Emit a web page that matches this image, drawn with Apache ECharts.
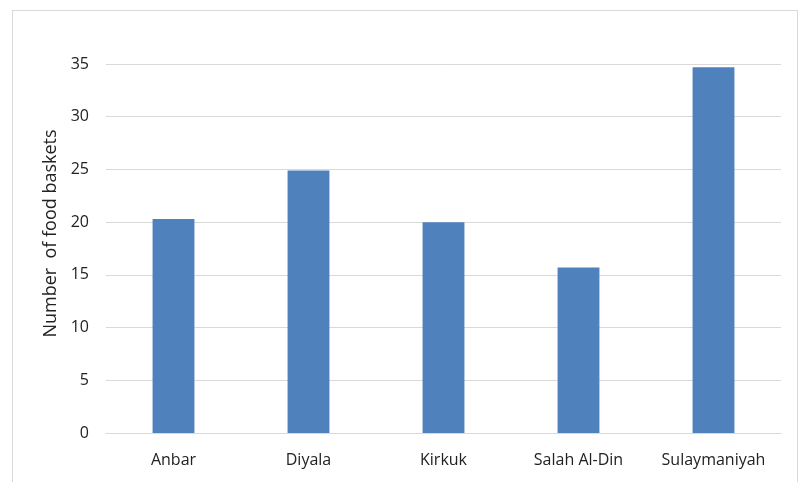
<!DOCTYPE html>
<html><head><meta charset="utf-8">
<script src="https://cdn.jsdelivr.net/npm/echarts@6/dist/echarts.min.js"></script>
<style>html,body{margin:0;padding:0;background:#fff}#c{width:808px;height:482px}
#frame{position:absolute;left:12px;top:10px;width:786px;height:480px;border:1px solid #d9d9d9;box-sizing:border-box;pointer-events:none}</style>
</head><body><div id="c"></div><div id="frame"></div>
<script>
const categories = ["Anbar", "Diyala", "Kirkuk", "Salah Al-Din", "Sulaymaniyah"];
const values = [20.3, 24.9, 20.0, 15.7, 34.7];
const yTicks = { min: 0, max: 35, interval: 5 };
const yName = "Number  of food baskets";

const chart = echarts.init(document.getElementById('c'), null, {renderer: 'canvas'});
chart.setOption({
  animation: false,
  grid: { left: 106, right: 27, top: 64, bottom: 49 },
  xAxis: {
    type: 'category', data: categories,
    axisLine: { lineStyle: { color: '#d9d9d9', width: 1 } },
    axisTick: { show: false },
    axisLabel: { color: '#222', fontFamily: 'Open Sans', fontSize: 16, margin: 19 }
  },
  yAxis: {
    type: 'value', min: yTicks.min, max: yTicks.max, interval: yTicks.interval,
    name: yName, nameLocation: 'middle', nameGap: 45, nameRotate: 90,
    nameTextStyle: { color: '#222', fontFamily: 'Open Sans', fontSize: 18, padding: [0, 0, 0, 30] },
    axisLine: { show: false }, axisTick: { show: false },
    axisLabel: { color: '#222', fontFamily: 'Open Sans', fontSize: 16, margin: 17 },
    splitLine: { lineStyle: { color: '#d9d9d9', width: 1 } }
  },
  series: [{
    type: 'bar', data: values, barWidth: '31%',
    itemStyle: { color: '#4F81BD' }
  }]
});
</script></body></html>
